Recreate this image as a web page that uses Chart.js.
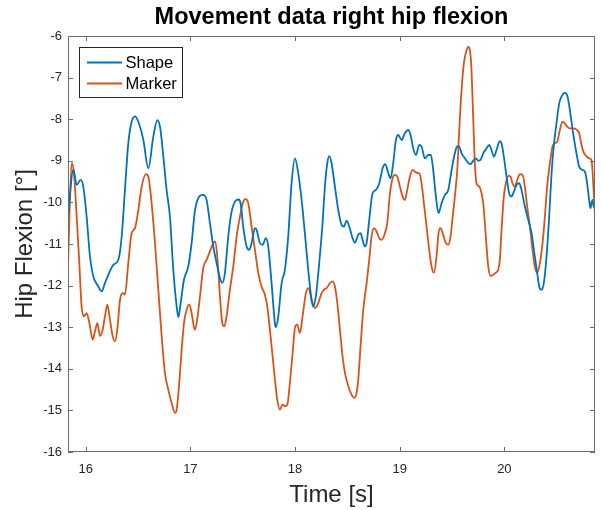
<!DOCTYPE html>
<html>
<head>
<meta charset="utf-8">
<script src="https://cdn.jsdelivr.net/npm/chart.js@4.4.1/dist/chart.umd.min.js"></script>
<style>
  html, body { margin: 0; padding: 0; background: #fff; }
  #wrap { width: 601px; height: 510px; position: relative; }
</style>
</head>
<body>
<div id="wrap"><canvas id="hipChart"></canvas></div>
<script>
// Shape series (time in s, angle in deg)
const shapeTime = [
  15.831, 15.882, 15.914, 15.952, 15.977, 16.009, 16.041, 16.073, 16.121, 16.153,
  16.184, 16.216, 16.264, 16.312, 16.344, 16.375, 16.407, 16.439, 16.471, 16.503,
  16.551, 16.598, 16.646, 16.684, 16.710, 16.742, 16.773, 16.805, 16.837, 16.869,
  16.885, 16.907, 16.939, 16.980, 17.012, 17.044, 17.092, 17.123, 17.155, 17.187,
  17.219, 17.251, 17.283, 17.305, 17.330, 17.362, 17.394, 17.426, 17.458, 17.480,
  17.505, 17.537, 17.563, 17.585, 17.617, 17.633, 17.665, 17.690, 17.722, 17.744,
  17.776, 17.808, 17.817, 17.840, 17.872, 17.903, 17.935, 17.967, 17.999, 18.031,
  18.063, 18.094, 18.126, 18.158, 18.174, 18.199, 18.231, 18.263, 18.286, 18.308,
  18.327, 18.349, 18.381, 18.413, 18.445, 18.467, 18.493, 18.518, 18.550, 18.572,
  18.604, 18.626, 18.645, 18.668, 18.684, 18.709, 18.741, 18.773, 18.805, 18.837,
  18.862, 18.891, 18.913, 18.938, 18.964, 18.986, 19.018, 19.050, 19.082, 19.104,
  19.129, 19.155, 19.187, 19.209, 19.241, 19.273, 19.298, 19.320, 19.346, 19.371,
  19.400, 19.432, 19.464, 19.496, 19.527, 19.550, 19.569, 19.591, 19.623, 19.655,
  19.677, 19.702, 19.728, 19.750, 19.772, 19.798, 19.830, 19.855, 19.877, 19.900,
  19.925, 19.957, 19.973, 19.995, 20.021, 20.046, 20.068, 20.091, 20.116, 20.142,
  20.164, 20.196, 20.228, 20.260, 20.291, 20.314, 20.333, 20.355, 20.377, 20.403,
  20.428, 20.451, 20.473, 20.498, 20.524, 20.549, 20.578, 20.600, 20.626, 20.657,
  20.689, 20.715, 20.747, 20.769, 20.791, 20.810, 20.823, 20.842, 20.855, 20.866
];
const shapeAngle = [
  -10.38, -9.21, -9.58, -9.46, -9.62, -10.34, -11.30, -11.78, -12.02, -12.14,
  -11.94, -11.74, -11.50, -11.38, -10.82, -9.70, -8.58, -8.06, -7.93, -8.06,
  -8.50, -9.18, -8.42, -8.02, -8.18, -8.90, -9.70, -10.34, -11.62, -12.50,
  -12.76, -12.42, -11.86, -11.54, -10.98, -10.20, -9.84, -9.82, -9.94, -10.50,
  -11.06, -11.46, -11.82, -11.93, -11.70, -10.82, -10.22, -9.98, -9.93, -10.02,
  -10.58, -11.06, -11.14, -10.98, -10.62, -10.66, -10.98, -11.02, -10.86, -11.06,
  -11.94, -12.90, -13.00, -12.74, -11.94, -11.62, -10.82, -9.54, -8.94, -9.30,
  -9.94, -10.74, -11.62, -12.34, -12.50, -12.26, -11.46, -10.50, -9.60, -9.06,
  -8.89, -9.06, -9.62, -10.18, -10.54, -10.58, -10.44, -10.58, -10.86, -10.97,
  -10.78, -10.74, -10.90, -11.06, -10.98, -10.42, -9.78, -9.70, -9.54, -9.18,
  -9.08, -9.30, -9.42, -9.06, -8.50, -8.38, -8.50, -8.34, -8.26, -8.38,
  -8.70, -8.86, -8.62, -8.66, -8.94, -8.86, -8.86, -9.22, -9.86, -10.26,
  -10.02, -9.82, -9.70, -9.22, -8.82, -8.65, -8.66, -8.82, -8.94, -9.05,
  -9.08, -9.00, -8.94, -9.00, -8.98, -8.82, -8.70, -8.62, -8.74, -8.90,
  -8.74, -8.53, -8.58, -8.90, -9.38, -9.78, -9.86, -9.74, -9.58, -9.54,
  -9.70, -10.10, -10.42, -10.74, -11.30, -11.70, -12.02, -12.10, -11.94, -11.30,
  -10.34, -9.30, -8.62, -8.10, -7.62, -7.44, -7.37, -7.42, -7.78, -8.34,
  -8.82, -9.14, -9.22, -9.26, -9.54, -9.94, -10.14, -9.94, -10.10, -10.14
];

// Marker series (time in s, angle in deg)
const markerTime = [
  15.831, 15.866, 15.888, 15.914, 15.939, 15.961, 15.984, 16.009, 16.035, 16.067,
  16.089, 16.111, 16.137, 16.162, 16.184, 16.207, 16.232, 16.258, 16.280, 16.302,
  16.328, 16.353, 16.375, 16.407, 16.439, 16.471, 16.503, 16.535, 16.576, 16.598,
  16.630, 16.662, 16.694, 16.726, 16.757, 16.789, 16.821, 16.853, 16.869, 16.894,
  16.917, 16.939, 16.964, 16.990, 17.015, 17.041, 17.060, 17.092, 17.123, 17.155,
  17.187, 17.219, 17.238, 17.257, 17.283, 17.305, 17.324, 17.346, 17.378, 17.410,
  17.442, 17.474, 17.505, 17.531, 17.553, 17.585, 17.617, 17.649, 17.680, 17.712,
  17.735, 17.760, 17.786, 17.808, 17.830, 17.856, 17.881, 17.903, 17.926, 17.951,
  17.977, 18.002, 18.021, 18.047, 18.072, 18.104, 18.129, 18.158, 18.190, 18.222,
  18.254, 18.276, 18.302, 18.334, 18.359, 18.381, 18.404, 18.429, 18.454, 18.477,
  18.509, 18.540, 18.566, 18.588, 18.604, 18.626, 18.652, 18.684, 18.709, 18.731,
  18.754, 18.779, 18.805, 18.827, 18.859, 18.881, 18.907, 18.932, 18.954, 18.977,
  19.002, 19.028, 19.050, 19.072, 19.098, 19.123, 19.145, 19.168, 19.187, 19.209,
  19.231, 19.257, 19.282, 19.304, 19.327, 19.352, 19.371, 19.390, 19.416, 19.441,
  19.464, 19.486, 19.505, 19.527, 19.550, 19.569, 19.591, 19.613, 19.639, 19.655,
  19.671, 19.686, 19.702, 19.718, 19.734, 19.760, 19.782, 19.798, 19.814, 19.830,
  19.846, 19.868, 19.893, 19.919, 19.941, 19.957, 19.973, 19.995, 20.014, 20.037,
  20.059, 20.078, 20.100, 20.123, 20.148, 20.174, 20.196, 20.218, 20.244, 20.269,
  20.291, 20.314, 20.339, 20.365, 20.387, 20.409, 20.435, 20.460, 20.482, 20.505,
  20.530, 20.556, 20.578, 20.600, 20.626, 20.657, 20.689, 20.715, 20.737, 20.760,
  20.785, 20.810, 20.833, 20.849, 20.866
];
const markerAngle = [
  -11.50, -9.05, -9.30, -10.34, -11.46, -12.50, -12.74, -12.66, -12.90, -13.30,
  -13.10, -12.90, -13.21, -13.06, -12.74, -12.46, -12.82, -13.22, -13.34, -13.06,
  -12.34, -12.18, -12.22, -11.46, -10.74, -10.62, -10.18, -9.62, -9.32, -9.38,
  -10.02, -10.98, -12.10, -13.22, -14.10, -14.50, -14.82, -15.06, -14.98, -14.34,
  -13.54, -12.90, -12.58, -12.45, -12.70, -13.06, -12.90, -12.26, -11.58, -11.38,
  -11.18, -10.98, -10.94, -11.30, -12.26, -12.90, -12.98, -12.74, -12.10, -11.54,
  -10.82, -10.34, -9.98, -9.92, -10.02, -10.58, -11.14, -11.70, -12.02, -12.22,
  -12.50, -13.06, -13.70, -14.26, -14.74, -14.98, -14.86, -14.90, -14.86, -14.34,
  -13.62, -12.98, -12.94, -13.14, -12.74, -12.18, -12.06, -12.34, -12.54, -12.42,
  -12.18, -12.10, -12.06, -11.94, -11.90, -12.02, -12.42, -13.06, -13.70, -14.10,
  -14.42, -14.62, -14.70, -14.58, -14.26, -13.46, -12.58, -11.94, -11.38, -10.82,
  -10.62, -10.70, -10.86, -10.90, -10.74, -10.50, -9.78, -9.42, -9.34, -9.38,
  -9.62, -9.86, -9.94, -9.70, -9.38, -9.22, -9.26, -9.29, -9.30, -9.54,
  -10.02, -10.58, -11.14, -11.54, -11.69, -11.30, -10.74, -10.62, -10.78, -10.98,
  -11.02, -10.82, -10.38, -9.86, -9.22, -8.26, -7.30, -6.66, -6.34, -6.26,
  -6.34, -6.82, -7.94, -9.06, -9.54, -9.62, -9.78, -10.02, -10.50, -11.06,
  -11.54, -11.77, -11.74, -11.69, -11.62, -11.38, -10.66, -9.86, -9.54, -9.36,
  -9.38, -9.54, -9.62, -9.46, -9.32, -9.34, -9.62, -10.10, -10.58, -11.14,
  -11.54, -11.69, -11.46, -10.98, -10.34, -9.62, -9.06, -8.66, -8.58, -8.54,
  -8.26, -8.06, -8.10, -8.18, -8.22, -8.22, -8.25, -8.34, -8.62, -8.81,
  -8.89, -8.94, -8.98, -9.54, -10.30
];

const xTicks = [16, 17, 18, 19, 20];
const yTicks = [-16, -15, -14, -13, -12, -11, -10, -9, -8, -7, -6];
const xMin = 15.831;
const xMax = 20.866;

const FONT = 'Liberation Sans, Arial, Helvetica, sans-serif';
const TEXT_COLOR = '#262626';

function toPoints(xs, ys) {
    return xs.map((x, i) => ({ x: x, y: ys[i] }));
}

// MATLAB-like box with inward ticks, plus a boxed legend in the top-left corner
const axesBoxPlugin = {
    id: 'axesBox',
    afterDraw(chart) {
        const ctx = chart.ctx;
        const area = chart.chartArea;
        const xs = chart.scales.x;
        const ys = chart.scales.y;
        const tickLen = 5;

        ctx.save();
        ctx.strokeStyle = '#6b6b6b';
        ctx.lineWidth = 1;
        ctx.strokeRect(Math.round(area.left) + 0.5, Math.round(area.top) + 0.5,
            Math.round(area.right - area.left) - 1, Math.round(area.bottom - area.top) - 1);

        ctx.beginPath();
        xTicks.forEach(v => {
            const px = Math.round(xs.getPixelForValue(v)) + 0.5;
            ctx.moveTo(px, area.bottom);
            ctx.lineTo(px, area.bottom - tickLen);
            ctx.moveTo(px, area.top);
            ctx.lineTo(px, area.top + tickLen);
        });
        yTicks.forEach(v => {
            const py = Math.round(ys.getPixelForValue(v)) + 0.5;
            ctx.moveTo(area.left, py);
            ctx.lineTo(area.left + tickLen, py);
            ctx.moveTo(area.right, py);
            ctx.lineTo(area.right - tickLen, py);
        });
        ctx.stroke();

        // legend
        const lx = area.left + 11.5;
        const ly = area.top + 11.5;
        const lw = 103;
        const lh = 50;
        ctx.fillStyle = '#ffffff';
        ctx.fillRect(lx, ly, lw, lh);
        ctx.strokeStyle = '#262626';
        ctx.lineWidth = 1;
        ctx.strokeRect(lx, ly, lw, lh);

        ctx.font = '16.5px ' + FONT;
        ctx.textBaseline = 'middle';
        ctx.textAlign = 'left';
        chart.data.datasets.forEach((ds, i) => {
            const rowY = ly + 15 + i * 21;
            ctx.strokeStyle = ds.borderColor;
            ctx.lineWidth = 1.8;
            ctx.beginPath();
            ctx.moveTo(lx + 7.5, rowY);
            ctx.lineTo(lx + 42.5, rowY);
            ctx.stroke();
            ctx.fillStyle = '#000000';
            ctx.fillText(ds.label, lx + 46, rowY + 0.5);
        });
        ctx.restore();
    }
};

const ctx = document.getElementById('hipChart').getContext('2d');
const hipChart = new Chart(ctx, {
    type: 'line',
    data: {
        datasets: [
            {
                label: 'Shape',
                data: toPoints(shapeTime, shapeAngle),
                borderColor: '#0072BD',
                borderWidth: 1.8,
                pointRadius: 0,
                cubicInterpolationMode: 'monotone',
                fill: false
            },
            {
                label: 'Marker',
                data: toPoints(markerTime, markerAngle),
                borderColor: '#D95319',
                borderWidth: 1.8,
                pointRadius: 0,
                cubicInterpolationMode: 'monotone',
                fill: false
            }
        ]
    },
    options: {
        responsive: true,
        maintainAspectRatio: false,
        animation: false,
        devicePixelRatio: 1,
        layout: { padding: { left: 0, right: 6, top: 0, bottom: 0 } },
        plugins: {
            legend: { display: false },
            tooltip: { enabled: false },
            title: {
                display: true,
                text: 'Movement data right hip flexion',
                fullSize: false,
                color: '#000000',
                font: { family: FONT, size: 23.5, weight: 'bold', lineHeight: 1.2 },
                padding: { top: 3.9, bottom: 3.9 }
            }
        },
        scales: {
            x: {
                type: 'linear',
                min: xMin,
                max: xMax,
                grid: { display: false, drawTicks: false },
                border: { display: false },
                afterBuildTicks: s => { s.ticks = xTicks.map(v => ({ value: v })); },
                afterFit: s => { s.height = 58; },
                ticks: {
                    autoSkip: false,
                    maxRotation: 0,
                    padding: 10,
                    color: TEXT_COLOR,
                    font: { family: FONT, size: 13 }
                },
                title: {
                    display: true,
                    text: 'Time [s]',
                    color: TEXT_COLOR,
                    font: { family: FONT, size: 24, lineHeight: 1.2 },
                    padding: { top: 0, bottom: 0 }
                }
            },
            y: {
                type: 'linear',
                min: -16,
                max: -6,
                grid: { display: false, drawTicks: false },
                border: { display: false },
                afterBuildTicks: s => { s.ticks = yTicks.map(v => ({ value: v })); },
                afterFit: s => { s.width = 68; },
                ticks: {
                    padding: 6,
                    color: TEXT_COLOR,
                    font: { family: FONT, size: 13 }
                },
                title: {
                    display: true,
                    text: 'Hip Flexion [°]',
                    color: TEXT_COLOR,
                    font: { family: FONT, size: 24, lineHeight: 1.2 },
                    padding: { top: 11, bottom: 0 }
                }
            }
        }
    },
    plugins: [axesBoxPlugin]
});
</script>
</body>
</html>
